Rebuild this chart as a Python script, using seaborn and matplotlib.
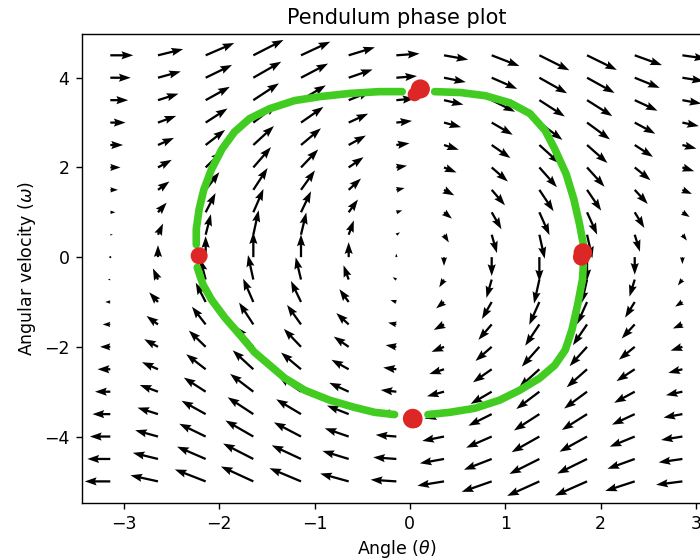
import numpy as np
import pandas as pd
import matplotlib
matplotlib.use("Agg")
import matplotlib.pyplot as plt
import seaborn as sns

# Vector field grid (angle, angular velocity) and pendulum constant g/L
theta_grid = np.arange(-np.pi, np.pi, 0.5)
omega_grid = np.arange(-5.0, 5.0, 0.5)
g_over_l = 9.8 / 2.0

# Hand-traced orbit, split into four arcs between the marked points
arc_top_left_theta = [-0.08, -0.32, -0.63, -0.94, -1.21, -1.47, -1.68, -1.84, -1.97, -2.08, -2.16, -2.21, -2.24, -2.24]
arc_top_left_omega = [3.69, 3.69, 3.65, 3.58, 3.49, 3.31, 3.09, 2.79, 2.41, 1.96, 1.51, 1.07, 0.62, 0.28]
arc_bottom_left_theta = [-2.23, -2.17, -2.08, -1.94, -1.78, -1.63, -1.47, -1.31, -1.10, -0.84, -0.58, -0.37, -0.16]
arc_bottom_left_omega = [-0.23, -0.61, -0.95, -1.35, -1.74, -2.12, -2.41, -2.70, -2.97, -3.19, -3.35, -3.46, -3.51]
arc_bottom_right_theta = [0.19, 0.42, 0.68, 0.94, 1.15, 1.36, 1.52, 1.63, 1.70, 1.76, 1.81, 1.82]
arc_bottom_right_omega = [-3.51, -3.46, -3.37, -3.19, -2.97, -2.70, -2.41, -2.07, -1.62, -1.06, -0.50, -0.17]
arc_top_right_theta = [1.82, 1.78, 1.72, 1.64, 1.52, 1.42, 1.26, 1.05, 0.79, 0.53, 0.26]
arc_top_right_omega = [0.28, 0.73, 1.29, 1.85, 2.41, 2.82, 3.20, 3.44, 3.60, 3.67, 3.69]

# Turning points of the orbit (hand-drawn blobs: main dab plus a smaller smear)
marker_theta = [0.11, 1.815, 0.03, -2.21]
marker_omega = [3.75, 0.10, -3.60, 0.03]
marker_size = [190, 180, 200, 150]
smear_theta = [0.05, 1.80, 0.05]
smear_omega = [3.63, 0.00, -3.64]
smear_size = [100, 150, 120]

sns.set_style("white")
plt.rcParams.update({
    "font.family": ["DejaVu Sans"],
    "axes.edgecolor": "black",
    "axes.linewidth": 1.0,
    "xtick.color": "black",
    "ytick.color": "black",
    "xtick.direction": "out",
    "ytick.direction": "out",
    "xtick.major.size": 4.4,
    "ytick.major.size": 4.4,
    "xtick.major.width": 1.0,
    "ytick.major.width": 1.0,
    "xtick.major.pad": 4.4,
    "ytick.major.pad": 4.4,
    "xtick.bottom": True,
    "ytick.left": True,
    "text.color": "black",
    "axes.labelcolor": "black",
})

fig = plt.figure(figsize=(7.0, 5.59), dpi=100)
ax = fig.add_axes([81.7 / 700, 56.3 / 559, (711 - 81.7) / 700, (502.7 - 34) / 559])

ax.set_xlim(theta_grid.min() - 0.05 * (theta_grid.max() - theta_grid.min()),
            theta_grid.max() + 0.05 * (theta_grid.max() - theta_grid.min()))
ax.set_ylim(omega_grid.min() - 0.05 * (omega_grid.max() - omega_grid.min()),
            omega_grid.max() + 0.05 * (omega_grid.max() - omega_grid.min()))

# Phase-space vector field (directions follow the data axes)
T, W = np.meshgrid(theta_grid, omega_grid)
U = W
V = -g_over_l * np.sin(T)
ax.quiver(T, W, U, V, color="black", angles="xy", scale=0.196, scale_units="dots",
          width=0.0036, headwidth=3.6, headlength=5.2, headaxislength=4.6)

# Orbit arcs
arcs = [
    (arc_top_left_theta, arc_top_left_omega),
    (arc_bottom_left_theta, arc_bottom_left_omega),
    (arc_bottom_right_theta, arc_bottom_right_omega),
    (arc_top_right_theta, arc_top_right_omega),
]
orbit = pd.concat(
    [pd.DataFrame({"theta": t, "omega": w, "arc": i})
     for i, (t, w) in enumerate(arcs)],
    ignore_index=True,
)
sns.lineplot(data=orbit, x="theta", y="omega", units="arc", estimator=None,
             sort=False, color="#42cc22", linewidth=5.5, solid_capstyle="round",
             solid_joinstyle="round", ax=ax, zorder=3)

red = "#dd2626"
ax.scatter(smear_theta, smear_omega, s=smear_size, color=red, edgecolor="none", zorder=4)
ax.scatter(marker_theta, marker_omega, s=marker_size, color=red, edgecolor="none", zorder=4)

ax.set_xticks([-3, -2, -1, 0, 1, 2, 3])
ax.set_yticks([-4, -2, 0, 2, 4])
ax.tick_params(labelsize=12.5)
ax.set_xlabel(r"Angle ($\theta$)", fontsize=12.5)
ax.set_ylabel(r"Angular velocity ($\omega$)", fontsize=12.5)
ax.set_title("Pendulum phase plot", fontsize=15, pad=7.5)

fig.savefig("out.png", dpi=100)
